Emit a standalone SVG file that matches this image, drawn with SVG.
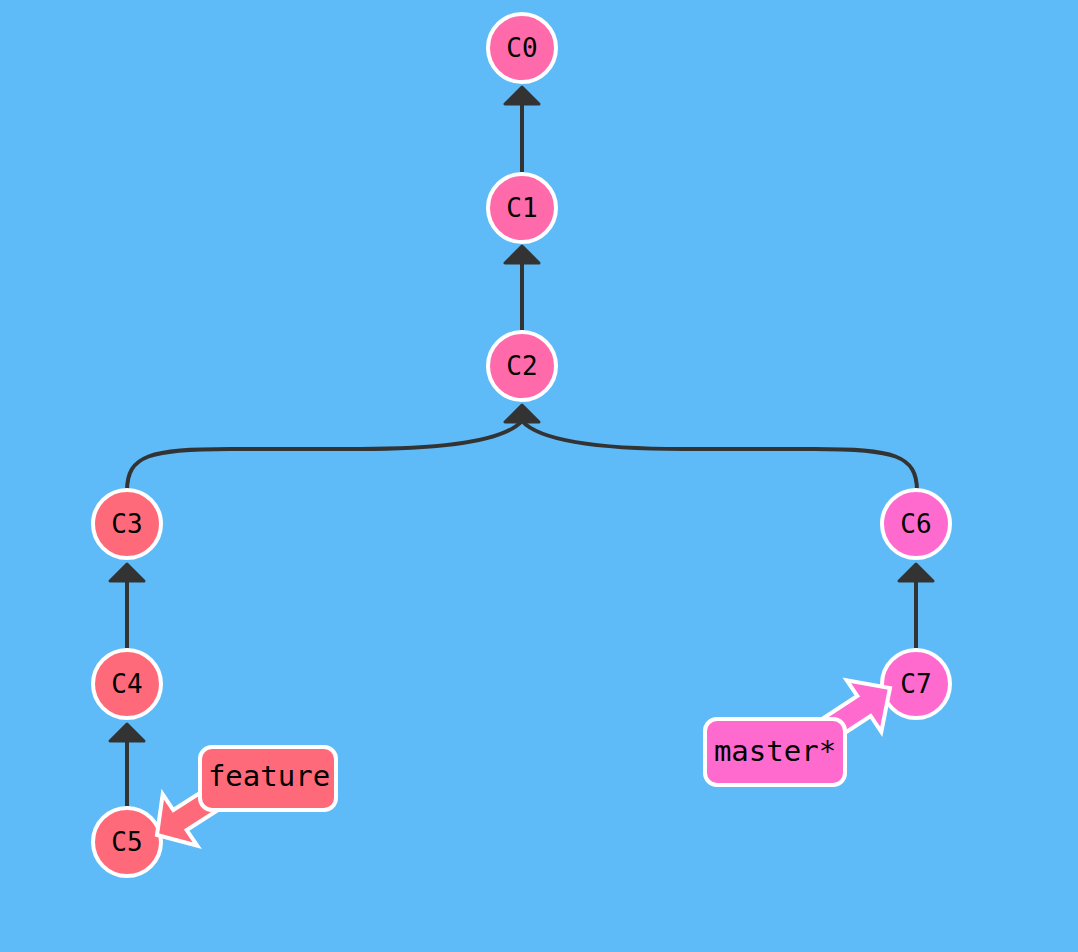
<svg xmlns="http://www.w3.org/2000/svg" width="1078" height="952" viewBox="0 0 1078 952">
<style>
.edge{fill:none;stroke:#333;stroke-width:4}
.head{fill:#333;stroke:#333;stroke-width:3;stroke-linejoin:round}
.commit{stroke:#fff;stroke-width:4}
.ctext{font-family:"DejaVu Sans Mono","Liberation Mono",monospace;font-size:26px;fill:#000;text-anchor:middle}
.ltext{font-family:"DejaVu Sans Mono","Liberation Mono",monospace;font-size:29px;fill:#000;text-anchor:middle}
.lbl{stroke:#fff;stroke-width:4;stroke-linejoin:miter}
.main{fill:#FF6AAA}
.feat{fill:#FF6A7A}
.mast{fill:#FF6ACF}
</style>
<rect x="0" y="0" width="1078" height="952" fill="#5FBAF8"/>
<g id="connectors">
<path class="edge" d="M522,172 L522,104"/>
<polygon class="head" points="522,87 505,104 539,104"/>
<path class="edge" d="M522,330 L522,263"/>
<polygon class="head" points="522,246 505,263 539,263"/>
<path class="edge" d="M127,491 C127,455 150,449 230,449 L360,449 C450,449 505,440 522,421"/>
<path class="edge" d="M917,491 C917,455 894,449 814,449 L684,449 C594,449 539,440 522,421"/>
<polygon class="head" points="522,405 505,422 539,422"/>
<path class="edge" d="M127,648 L127,581"/>
<polygon class="head" points="127,564 110,581 144,581"/>
<path class="edge" d="M127,806 L127,741"/>
<polygon class="head" points="127,724 110,741 144,741"/>
<path class="edge" d="M916,648 L916,581"/>
<polygon class="head" points="916,564 899,581 933,581"/>
</g>
<g id="C0"><circle class="commit main" cx="522" cy="48" r="34"/><text class="ctext" x="522" y="57">C0</text></g>
<g id="C1"><circle class="commit main" cx="522" cy="208" r="34"/><text class="ctext" x="522" y="217">C1</text></g>
<g id="C2"><circle class="commit main" cx="522" cy="366" r="34"/><text class="ctext" x="522" y="375">C2</text></g>
<g id="C3"><circle class="commit feat" cx="127" cy="524" r="34"/><text class="ctext" x="127" y="533">C3</text></g>
<g id="C4"><circle class="commit feat" cx="127" cy="684" r="34"/><text class="ctext" x="127" y="693">C4</text></g>
<g id="C5"><circle class="commit feat" cx="127" cy="842" r="34"/><text class="ctext" x="127" y="851">C5</text></g>
<g id="C6"><circle class="commit mast" cx="916" cy="524" r="34"/><text class="ctext" x="916" y="533">C6</text></g>
<g id="C7"><circle class="commit mast" cx="916" cy="684" r="34"/><text class="ctext" x="916" y="693">C7</text></g>
<g id="feature">
<polygon class="lbl feat" points="236.7,798 186.7,830 197.3,845.7 157,835 162.7,794.3 173.3,810 223.3,778"/>
<rect class="lbl feat" x="200" y="747" width="136" height="63" rx="12"/>
<text class="ltext" x="269" y="786">feature</text>
</g>
<g id="master">
<polygon class="lbl mast" points="805.3,730 857.3,696 846.7,680.2 890,688 881.3,731.8 870.7,716 818.7,750"/>
<rect class="lbl mast" x="705" y="719" width="140" height="66" rx="12"/>
<text class="ltext" x="775" y="761">master*</text>
</g>
</svg>
